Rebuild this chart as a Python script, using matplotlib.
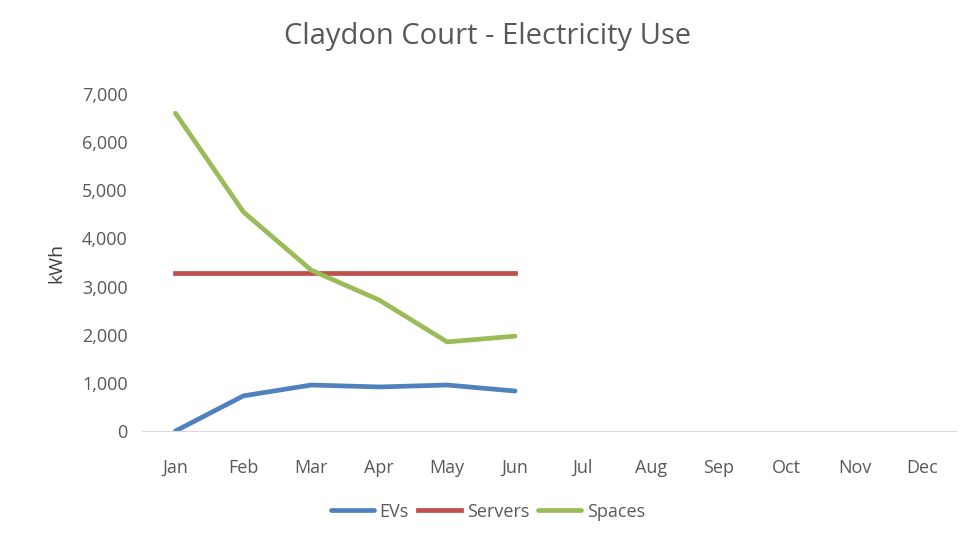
import matplotlib
matplotlib.use("Agg")
from matplotlib import pyplot as plt

plt.rcParams['font.family'] = ['Open Sans', 'DejaVu Sans']

months = ["Jan", "Feb", "Mar", "Apr", "May", "Jun", "Jul", "Aug", "Sep", "Oct", "Nov", "Dec"]
evs = [0, 730, 955, 915, 955, 830]
servers = [3280, 3280, 3280, 3280, 3280, 3280]
spaces = [6600, 4550, 3340, 2720, 1850, 1970]

fig = plt.figure(figsize=(9.76, 5.48), dpi=100)
ax = fig.add_axes([0.145, 0.2135, 0.835, 0.615])

x = range(len(months))
ax.plot(x[:len(evs)], evs, color="#4f81bd", lw=3.4, label="EVs", solid_capstyle="round")
ax.plot(x[:len(servers)], servers, color="#c0504d", lw=3.4, label="Servers")
ax.plot(x[:len(spaces)], spaces, color="#9bbb59", lw=3.4, label="Spaces", solid_capstyle="round")

ax.set_xlim(-0.5, 11.5)
ax.set_ylim(0, 7000)
ax.set_xticks(list(x))
ax.set_xticklabels(months)
ax.set_yticks(range(0, 7001, 1000))
ax.set_yticklabels([f"{v:,}" for v in range(0, 7001, 1000)])
ax.tick_params(colors="#595959", labelsize=13, length=0)
ax.tick_params(axis="x", pad=20)
ax.tick_params(axis="y", pad=10)
for s in ["top", "right", "left"]:
    ax.spines[s].set_visible(False)
ax.spines["bottom"].set_color("#d9d9d9")
ax.set_ylabel("kWh", color="#404040", fontsize=14, labelpad=12)

fig.suptitle("Claydon Court - Electricity Use", y=0.96, fontsize=21, color="#595959")
fig.legend(loc="lower center", bbox_to_anchor=(0.5, 0.02), ncol=3, frameon=False,
           fontsize=13, labelcolor="#595959", handlelength=2.4, columnspacing=0.5, handletextpad=0.3)

fig.savefig("out.png", dpi=100)
